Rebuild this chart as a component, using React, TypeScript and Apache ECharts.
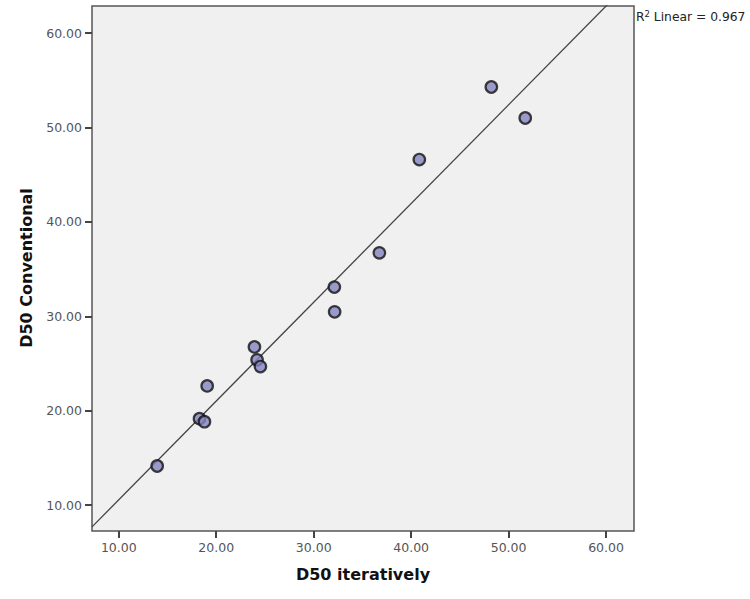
import React, { useEffect, useRef } from "react";
import * as echarts from "echarts";

const xValues = [13.94, 18.28, 18.79, 19.07, 23.92, 24.19, 24.53, 32.12, 32.15, 36.74, 40.84, 48.23, 51.71];
const yValues = [14.14, 19.15, 18.83, 22.62, 26.75, 25.38, 24.67, 33.09, 30.47, 36.72, 46.6, 54.29, 51.0];
const tickValues = [10, 20, 30, 40, 50, 60];
const axisMin = 7.25;
const axisMax = 62.87;
const fitIntercept = 0.1;
const fitSlope = 1.046;
const rSquared = "0.967";
const xTitle = "D50 iteratively";
const yTitle = "D50 Conventional";

export default function App() {
  const ref = useRef<HTMLDivElement>(null);
  useEffect(() => {
    document.body.style.margin = "0";
    const chart = echarts.init(ref.current!, null, { renderer: "svg" });
    const points = xValues.map((x, i) => [x, yValues[i]]);
    const fitLine = [axisMin, axisMax].map((x) => [x, fitIntercept + fitSlope * x]);
    const axisCommon = {
      type: "value" as const,
      min: axisMin,
      max: axisMax,
      splitLine: { show: false },
      axisLine: { show: false },
      axisTick: {
        show: true,
        customValues: tickValues,
        length: 7,
        lineStyle: { color: "#444", width: 2 },
      },
      axisLabel: {
        customValues: tickValues,
        formatter: (v: number) => v.toFixed(2),
        color: "#555",
        fontFamily: "DejaVu Sans",
        fontSize: 12.5,
        margin: 10,
      },
    };
    chart.setOption({
      animation: false,
      backgroundColor: "#fff",
      grid: {
        left: 92,
        top: 6,
        width: 542,
        height: 525,
        show: true,
        backgroundColor: "#f0f0f0",
        borderColor: "#555",
        borderWidth: 1.5,
      },
      xAxis: { ...axisCommon },
      yAxis: { ...axisCommon },
      series: [
        {
          type: "line",
          data: fitLine,
          symbol: "none",
          clip: true,
          lineStyle: { color: "#444", width: 1.3 },
          z: 2,
        },
        {
          type: "scatter",
          data: points,
          symbolSize: 11.5,
          itemStyle: { color: "#8484c0", borderColor: "#111", borderWidth: 2.2 },
          z: 3,
        },
      ],
      graphic: [
        {
          type: "text",
          left: 636,
          top: 9,
          style: {
            text: "R{sup|2} Linear = " + rSquared,
            fontFamily: "DejaVu Sans",
            fontSize: 12.3,
            fill: "#222",
            rich: {
              sup: { fontSize: 8.5, verticalAlign: "top", padding: [0, 0, 6, 0], fill: "#222", fontFamily: "DejaVu Sans" },
            },
          },
        },
        {
          type: "text",
          x: 363,
          y: 574,
          style: {
            text: xTitle,
            fontFamily: "DejaVu Sans",
            fontWeight: "bold",
            fontSize: 16,
            fill: "#111",
            textAlign: "center",
            textVerticalAlign: "middle",
          },
        },
        {
          type: "text",
          x: 26,
          y: 268,
          rotation: Math.PI / 2,
          style: {
            text: yTitle,
            fontFamily: "DejaVu Sans",
            fontWeight: "bold",
            fontSize: 16,
            fill: "#111",
            textAlign: "center",
            textVerticalAlign: "middle",
          },
        },
      ],
    });
    return () => chart.dispose();
  }, []);
  return <div ref={ref} style={{ width: 750, height: 599 }} />;
}
